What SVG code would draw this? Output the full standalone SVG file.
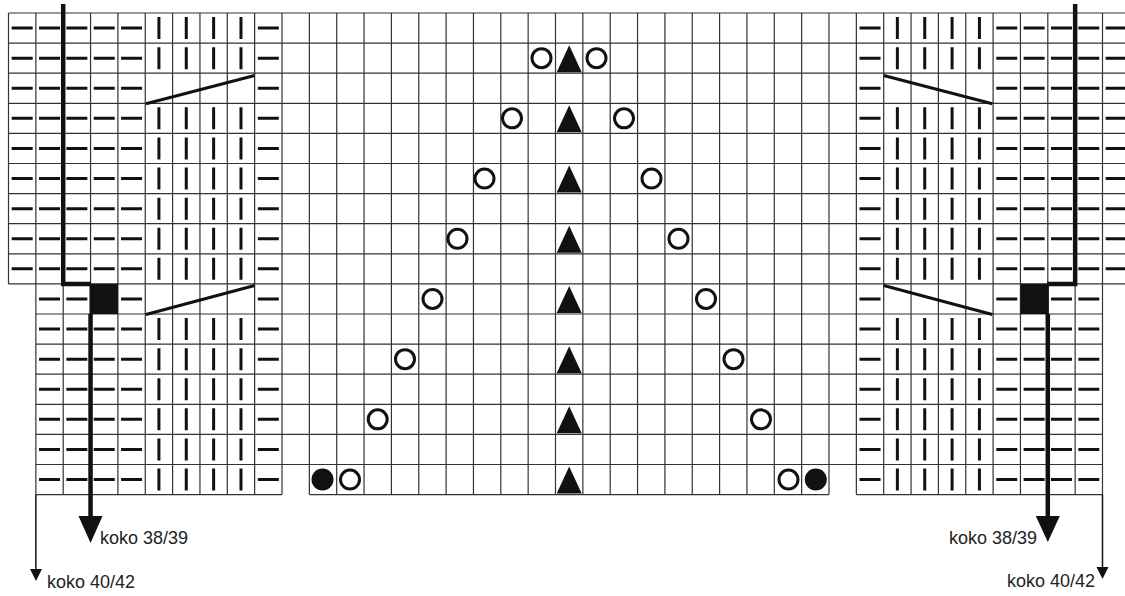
<svg xmlns="http://www.w3.org/2000/svg" xmlns:xlink="http://www.w3.org/1999/xlink" width="1125" height="596" viewBox="0 0 1125 596">
<style>
.g{stroke:#333;stroke-width:1.2;fill:none}
.h{stroke:#111;stroke-width:21;stroke-dasharray:3 27.1;fill:none}
.v{stroke:#111;stroke-width:3;stroke-dasharray:22 8.1;fill:none}
.d{stroke:#111;stroke-width:3;fill:none}
.t{stroke:#111;stroke-width:4.5;fill:none}
.a{stroke:#111;stroke-width:1.5;fill:none}
.o{fill:#fff;stroke:#111;stroke-width:3}
.f{fill:#111}
.lbl{font-family:"Liberation Sans",Arial,sans-serif;font-size:18px;fill:#222}
</style>
<defs>
<path id="tri" class="f" d="M0,-13 L12.5,14 L-12.5,14 Z"/>
<g id="panelL">
<path class="g" d="M8.5,13 H282 M8.5,43.1 H282 M8.5,73.2 H282 M8.5,103.3 H282 M8.5,133.4 H282 M8.5,163.5 H282 M8.5,193.6 H282 M8.5,223.7 H282 M8.5,253.8 H282 M8.5,283.9 H282 M35.85,314 H282 M35.85,344.1 H282 M35.85,374.2 H282 M35.85,404.3 H282 M35.85,434.4 H282 M35.85,464.5 H282 M35.85,494.6 H282 M8.5,13 V283.9 M35.85,13 V494.6 M63.2,13 V494.6 M90.55,13 V494.6 M117.9,13 V494.6 M145.25,13 V494.6 M172.6,13 V494.6 M199.95,13 V494.6 M227.3,13 V494.6 M254.65,13 V494.6 M282,13 V494.6"/>
<path class="h" d="M22.175,26.55 V297.45 M49.525,26.55 V508.15 M76.875,26.55 V508.15 M104.225,26.55 V508.15 M131.575,26.55 V508.15 M268.325,26.55 V508.15"/>
<path class="v" d="M158.925,17.05 V77.25 M158.925,107.35 V287.95 M158.925,318.05 V498.65 M186.275,17.05 V77.25 M186.275,107.35 V287.95 M186.275,318.05 V498.65 M213.625,17.05 V77.25 M213.625,107.35 V287.95 M213.625,318.05 V498.65 M240.975,17.05 V77.25 M240.975,107.35 V287.95 M240.975,318.05 V498.65"/>
<path class="d" d="M146,103.8 L254.65,75.5 M146,314.5 L254.65,285.5"/>
<rect class="f" x="89.5" y="283.9" width="28.4" height="30.1"/>
</g>
</defs>
<g id="left-panel"><use xlink:href="#panelL" href="#panelL"/></g>
<g id="right-panel"><use xlink:href="#panelL" href="#panelL" transform="matrix(-1 0 0 1 1138.35 0)"/></g>
<g id="center-panel">
<path class="g" d="M282,13 H856.35 M282,43.1 H856.35 M282,73.2 H856.35 M282,103.3 H856.35 M282,133.4 H856.35 M282,163.5 H856.35 M282,193.6 H856.35 M282,223.7 H856.35 M282,253.8 H856.35 M282,283.9 H856.35 M282,314 H856.35 M282,344.1 H856.35 M282,374.2 H856.35 M282,404.3 H856.35 M282,434.4 H856.35 M282,464.5 H856.35 M309.35,494.6 H829 M309.35,13 V494.6 M336.7,13 V494.6 M364.05,13 V494.6 M391.4,13 V494.6 M418.75,13 V494.6 M446.1,13 V494.6 M473.45,13 V494.6 M500.8,13 V494.6 M528.15,13 V494.6 M555.5,13 V494.6 M582.85,13 V494.6 M610.2,13 V494.6 M637.55,13 V494.6 M664.9,13 V494.6 M692.25,13 V494.6 M719.6,13 V494.6 M746.95,13 V494.6 M774.3,13 V494.6 M801.65,13 V494.6 M829,13 V494.6"/>
<use xlink:href="#tri" href="#tri" x="569.2" y="58.15"/>
<use xlink:href="#tri" href="#tri" x="569.2" y="118.35"/>
<use xlink:href="#tri" href="#tri" x="569.2" y="178.55"/>
<use xlink:href="#tri" href="#tri" x="569.2" y="238.75"/>
<use xlink:href="#tri" href="#tri" x="569.2" y="298.95"/>
<use xlink:href="#tri" href="#tri" x="569.2" y="359.15"/>
<use xlink:href="#tri" href="#tri" x="569.2" y="419.35"/>
<use xlink:href="#tri" href="#tri" x="569.2" y="479.55"/>
<circle class="o" cx="541.5" cy="58.15" r="9.5"/>
<circle class="o" cx="596.5" cy="58.15" r="9.5"/>
<circle class="o" cx="512" cy="118.35" r="9.5"/>
<circle class="o" cx="624" cy="118.35" r="9.5"/>
<circle class="o" cx="484.5" cy="178.55" r="9.5"/>
<circle class="o" cx="651.5" cy="178.55" r="9.5"/>
<circle class="o" cx="457.5" cy="238.75" r="9.5"/>
<circle class="o" cx="678.5" cy="238.75" r="9.5"/>
<circle class="o" cx="432.5" cy="298.95" r="9.5"/>
<circle class="o" cx="706" cy="298.95" r="9.5"/>
<circle class="o" cx="405" cy="359.15" r="9.5"/>
<circle class="o" cx="733.5" cy="359.15" r="9.5"/>
<circle class="o" cx="377.7" cy="419.35" r="9.5"/>
<circle class="o" cx="761" cy="419.35" r="9.5"/>
<circle class="o" cx="350" cy="479.55" r="9.5"/>
<circle class="o" cx="788.5" cy="479.55" r="9.5"/>
<circle class="f" cx="322.5" cy="479.55" r="11"/>
<circle class="f" cx="815.8" cy="479.55" r="11"/>
</g>
<g id="connectors">
<path class="t" d="M63.2,4 V284 H91 M90.55,314 V520"/>
<polygon class="f" points="78.5,516 102.5,516 90.55,543"/>
<path class="a" d="M35.85,494.6 V572"/>
<polygon class="f" points="30,569 42,569 36,581"/>
<path class="t" d="M1075.15,4 V284 H1047.35 M1047.8,314 V520"/>
<polygon class="f" points="1035.8,516 1059.8,516 1047.8,542"/>
<path class="a" d="M1102.5,494.6 V569"/>
<polygon class="f" points="1096.5,567 1108.5,567 1102.5,579"/>
</g>
<g id="labels">
<text class="lbl" x="100" y="544">koko 38/39</text>
<text class="lbl" x="47" y="588">koko 40/42</text>
<text class="lbl" x="1037" y="544" text-anchor="end">koko 38/39</text>
<text class="lbl" x="1095" y="587" text-anchor="end">koko 40/42</text>
</g>
</svg>
